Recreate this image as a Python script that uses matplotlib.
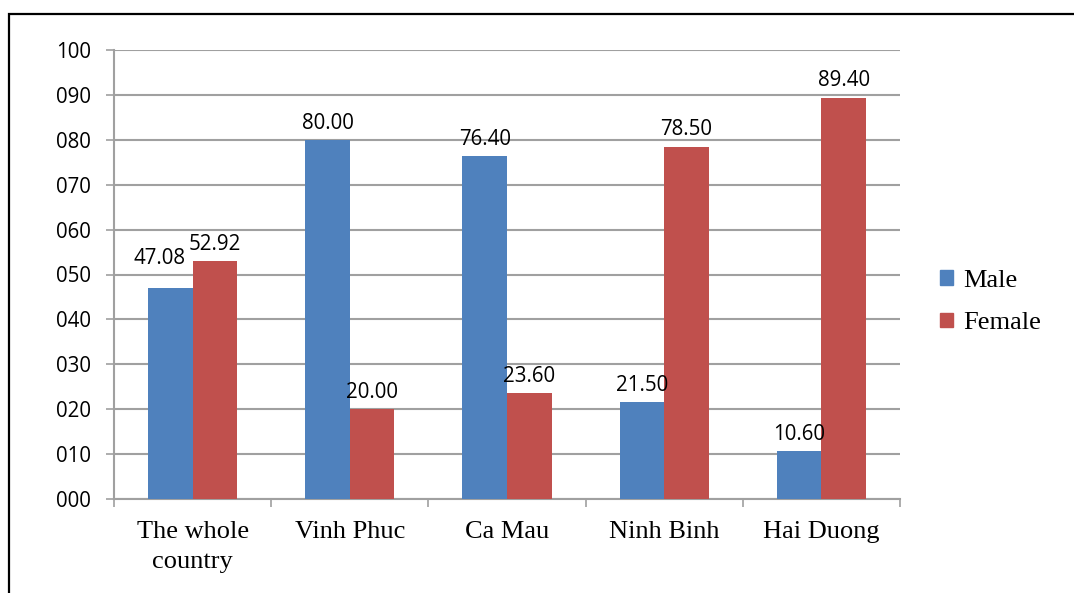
import matplotlib
matplotlib.use("Agg")
import matplotlib.pyplot as plt
from matplotlib.patches import Rectangle, Patch
import numpy as np

categories = ["The whole\ncountry", "Vinh Phuc", "Ca Mau", "Ninh Binh", "Hai Duong"]
series_names = ["Male", "Female"]
male = [47.08, 80.00, 76.40, 21.50, 10.60]
female = [52.92, 20.00, 23.60, 78.50, 89.40]
y_ticks = [0, 10, 20, 30, 40, 50, 60, 70, 80, 90, 100]

colors = ["#4F81BD", "#C0504D"]
grid_color = "#A0A0A0"
sans = "Open Sans"
serif = "Liberation Serif"

W, H = 1074, 593
fig = plt.figure(figsize=(W / 100, H / 100), dpi=100)
ax = fig.add_axes([114 / W, 1 - 499 / H, (900 - 114) / W, (499 - 50) / H])

x = np.arange(len(categories))
bw = 0.284
bars_m = ax.bar(x - bw / 2, male, bw, color=colors[0], label=series_names[0], zorder=3)
bars_f = ax.bar(x + bw / 2, female, bw, color=colors[1], label=series_names[1], zorder=3)

ax.set_xlim(-0.5, len(categories) - 0.5)
ax.set_ylim(0, 100)
ax.set_yticks(y_ticks)
ax.set_yticklabels([f"{v:03d}" for v in y_ticks], fontsize=14.8, family=sans)
ax.yaxis.grid(True, color=grid_color, linewidth=1.5, zorder=0)
ax.set_axisbelow(True)

ax.set_xticks(x)
ax.set_xticklabels(categories, fontsize=19, family=serif, linespacing=1.45)
ax.set_xticks(np.arange(len(categories) + 1) - 0.5, minor=True)
ax.tick_params(axis="x", which="major", length=0, pad=16)
ax.tick_params(axis="x", which="minor", length=5.5, width=1.2, color=grid_color)
ax.tick_params(axis="y", length=5.8, width=1.2, color=grid_color, pad=10.5)

for s in ["top", "right"]:
    ax.spines[s].set_visible(False)
for s in ["left", "bottom"]:
    ax.spines[s].set_color(grid_color)
    ax.spines[s].set_linewidth(1.5)

# label displacement (Excel's overlap avoidance for first male label)
label_shift = {(0, 0): (-8, 9)}
for si, (vals, bars) in enumerate([(male, bars_m), (female, bars_f)]):
    for ci, (v, b) in enumerate(zip(vals, bars)):
        dx, dy = label_shift.get((si, ci), (0, 0))
        ax.annotate(f"{v:.2f}", (b.get_x() + b.get_width() / 2, v),
                    xytext=(dx, 4.5 + dy), textcoords="offset points",
                    ha="center", va="bottom", fontsize=14.8, family=sans, zorder=4)

handles = [Patch(color=c, label=n) for c, n in zip(colors, series_names)]
fig.legend(handles=handles, loc="center left", bbox_to_anchor=(940 / W, 1 - 302 / H),
           frameon=False, prop={"family": serif, "size": 19}, handlelength=0.48,
           handleheight=0.48, handletextpad=0.4, labelspacing=0.78,
           borderpad=0, borderaxespad=0)

fig.patches.append(Rectangle((9 / W, -0.2), 1.5, 1 - 14 / H + 0.2, transform=fig.transFigure,
                             fill=False, edgecolor="black", linewidth=1.6))

fig.savefig("out.png", dpi=100)
